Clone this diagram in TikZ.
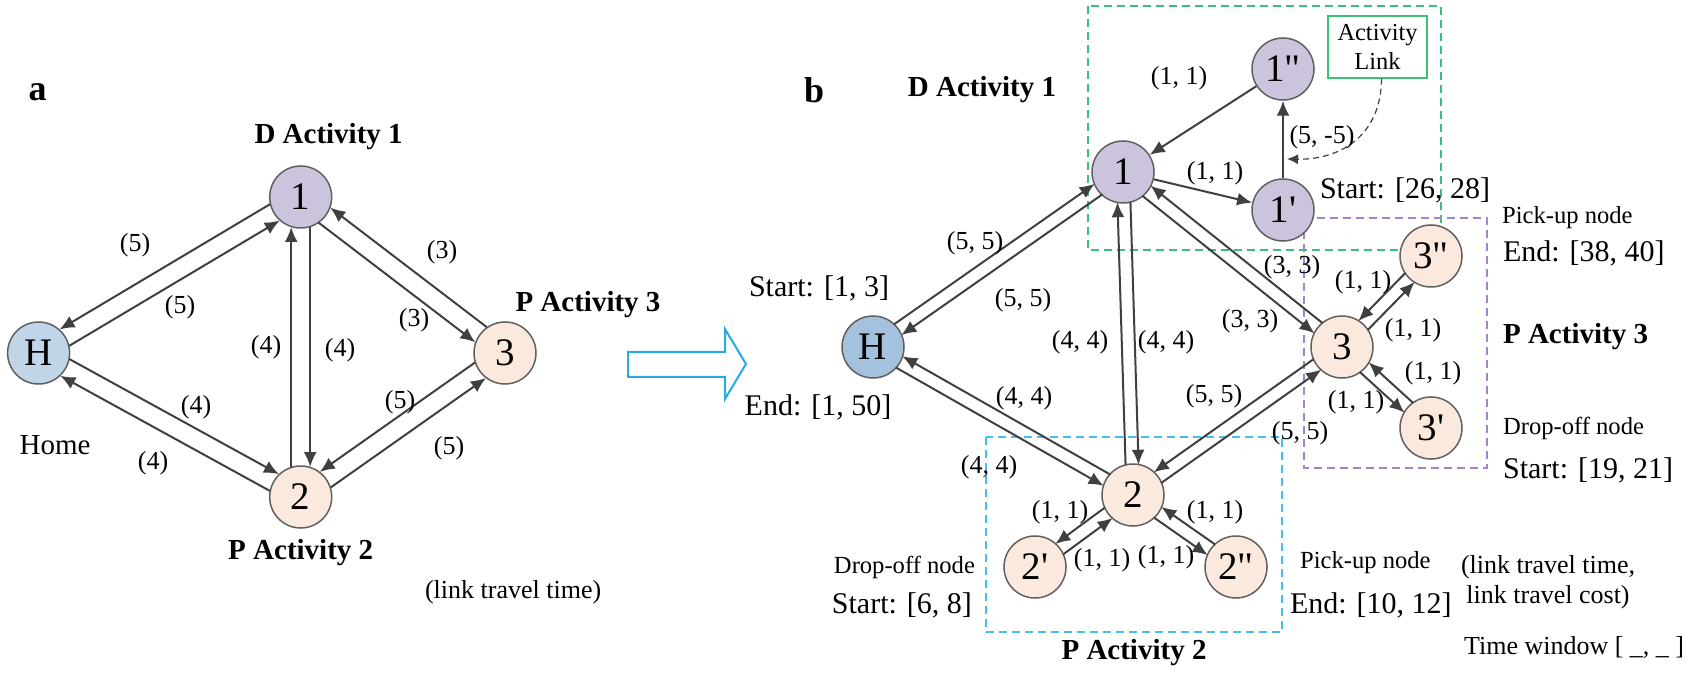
\documentclass[tikz,border=0pt]{standalone}
\usepackage{fontspec}
\setmainfont{Liberation Serif}
\usetikzlibrary{arrows.meta}
\usetikzlibrary{calc}
\definecolor{nodeline}{RGB}{96,96,96}
\definecolor{linkgray}{RGB}{64,64,64}
\definecolor{lav}{RGB}{204,196,221}
\definecolor{homeA}{RGB}{192,213,232}
\definecolor{homeB}{RGB}{164,194,222}
\definecolor{peach}{RGB}{251,233,222}
\definecolor{boxgreen}{RGB}{61,190,122}
\definecolor{boxpurple}{RGB}{167,131,206}
\definecolor{boxblue}{RGB}{69,192,236}
\definecolor{arrowblue}{RGB}{41,169,230}
\tikzset{
  stop/.style={circle,draw=nodeline,line width=0.75pt,minimum size=31pt,inner sep=0pt,
    font=\fontsize{19.5}{21}\selectfont},
  link/.style={draw=linkgray,line width=1pt,-{Latex[length=7.5pt,width=6.5pt]}},
  pair/.style={link,shorten <=15pt,shorten >=15pt},
  cost/.style={font=\fontsize{13}{15}\selectfont},
  title/.style={font=\fontsize{14.5}{16}\selectfont\bfseries},
  panel/.style={font=\fontsize{18}{20}\selectfont\bfseries},
  window/.style={font=\fontsize{15}{17}\selectfont},
  role/.style={font=\fontsize{12.3}{14}\selectfont},
  group/.style={dash pattern=on 4pt off 2.5pt,line width=0.6pt},
  callout/.style={draw=linkgray,line width=0.6pt,dash pattern=on 3pt off 2pt,
    -{Latex[length=5.5pt,width=5pt]}}
}
% one directed link, shifted sideways (#4 = 90 left, -90 right)
\newcommand{\lnk}[4][3.25pt]{%
  \draw[pair] ($(#2)!#1!#4:(#3)$) -- ($(#3)+($(#2)!#1!#4:(#3)$)-(#2)$);}

\begin{document}
\begin{tikzpicture}[x=0.5pt,y=-0.5pt]
                \useasboundingbox (0,0) rectangle (1691,678);

                % (a) activity network
                \node[panel] (ta) at (37.5,92) {a};
                \node[stop,fill=lav] (a1) at (300.7,197) {1};
                \node[stop,fill=homeA] (aH) at (38.6,353) {H};
                \node[stop,fill=peach] (a3) at (505,353) {3};
                \node[stop,fill=peach] (a2) at (300.7,497) {2};

                \lnk[4.75pt]{aH}{a1}{-90}
                \lnk[4.75pt]{a1}{aH}{-90}
                \lnk[4.75pt]{a1}{a3}{-90}
                \lnk[4.75pt]{a3}{a1}{-90}
                \lnk[4.75pt]{a2}{a1}{90}
                \lnk[4.75pt]{a1}{a2}{90}
                \lnk[4.75pt]{aH}{a2}{90}
                \lnk[4.75pt]{a2}{aH}{90}
                \lnk[4.75pt]{a2}{a3}{-90}
                \lnk[4.75pt]{a3}{a2}{-90}

                % Labels
                \node[title] (da1) at (328.6,137) {D Activity 1};
                \node[title] (pa2) at (300.7,553) {P Activity 2};
                \node[title] (pa3) at (588,305) {P Activity 3};
                \node[font=\fontsize{14.5}{16}\selectfont] (home) at (55,445) {Home};
                \node[cost,anchor=west] (unitA) at (418,592) {(link travel time)};
                \node[cost] (ca1) at (135,245) {(5)};
                \node[cost] (ca2) at (180,307) {(5)};
                \node[cost] (ca3) at (442,252) {(3)};
                \node[cost] (ca4) at (414,320) {(3)};
                \node[cost] (ca5) at (266,347) {(4)};
                \node[cost] (ca6) at (340,350) {(4)};
                \node[cost] (ca7) at (196,407) {(4)};
                \node[cost] (ca8) at (153,463) {(4)};
                \node[cost] (ca9) at (400,402) {(5)};
                \node[cost] (ca10) at (449,448) {(5)};

                % hollow arrow
                \draw[arrowblue,line width=1pt] (628,352) -- (725,352) -- (725,329) -- (746,364)
                    -- (725,399) -- (725,377) -- (628,377) -- cycle;

                % (b) expanded network
                \draw[group,boxgreen] (1088,6) rectangle (1441,250);
                \draw[group,boxpurple] (1304,218) rectangle (1487,468);
                \draw[group,boxblue] (986,437) rectangle (1282,632);

                \node[panel] (tb) at (814,90) {b};
                \node[stop,fill=lav] (b1) at (1123,172) {1};
                \node[stop,fill=lav] (b1pp) at (1283,69) {1\textquotedbl};
                \node[stop,fill=lav] (b1p) at (1283,210) {1\textquotesingle};
                \node[stop,fill=homeB] (bH) at (873,347) {H};
                \node[stop,fill=peach] (b3) at (1342,347) {3};
                \node[stop,fill=peach] (b3pp) at (1431,256) {3\textquotedbl};
                \node[stop,fill=peach] (b3p) at (1431,428) {3\textquotesingle};
                \node[stop,fill=peach] (b2) at (1133,495) {2};
                \node[stop,fill=peach] (b2p) at (1035,567) {2\textquotesingle};
                \node[stop,fill=peach] (b2pp) at (1236,567) {2\textquotedbl};

                \lnk{bH}{b1}{90}
                \lnk{b1}{bH}{90}
                \lnk{b2}{b1}{90}
                \lnk{b1}{b2}{90}
                \lnk{b1}{b3}{-90}
                \lnk{b3}{b1}{-90}
                \lnk{bH}{b2}{-90}
                \lnk{b2}{bH}{-90}
                \lnk{b2}{b3}{-90}
                \lnk{b3}{b2}{-90}
                \lnk{b3}{b3pp}{-90}
                \lnk{b3pp}{b3}{-90}
                \lnk{b3}{b3p}{-90}
                \lnk{b3p}{b3}{-90}
                \lnk{b2}{b2p}{-90}
                \lnk{b2p}{b2}{-90}
                \lnk{b2}{b2pp}{-90}
                \lnk{b2pp}{b2}{-90}
                \draw[link] (b1pp) -- (b1);
                \draw[link] (b1) -- (b1p);
                \draw[link] (b1p) -- (b1pp);

                % Activity link note
                \node[draw=boxgreen,line width=0.6pt,align=center,inner sep=0pt,
                    minimum width=49.5pt,minimum height=31pt,
                    font=\fontsize{12.2}{14.5}\selectfont] (actlink) at (1377.5,47) {Activity\\Link};
                \coordinate (lnkpt) at (1287,159);
                \draw[callout] ([xshift=2pt]actlink.south) .. controls (1381,140) and (1335,160) .. (lnkpt);

                % Labels
                \node[title] (db1) at (982,90) {D Activity 1};
                \node[title] (pb2) at (1134,653) {P Activity 2};
                \node[title,anchor=west] (pb3) at (1496,337) {P Activity 3};
                \node[window] (hs) at (819,288) {Start: [1, 3]};
                \node[window] (he) at (818,407) {End: [1, 50]};
                \node[window] (s1) at (1405,190) {Start: [26, 28]};
                \node[role,anchor=west] (pu3) at (1495,218) {Pick-up node};
                \node[window,anchor=west] (e3) at (1496,253) {End: [38, 40]};
                \node[role,anchor=west] (do3) at (1496,428) {Drop-off node};
                \node[window,anchor=west] (s3) at (1496,470) {Start: [19, 21]};
                \node[role,anchor=east] (do2) at (982,567) {Drop-off node};
                \node[window,anchor=east] (s2) at (979,605) {Start: [6, 8]};
                \node[role,anchor=west] (pu2) at (1293,563) {Pick-up node};
                \node[window,anchor=west] (e2) at (1283,605) {End: [10, 12]};
                \node[cost,align=center] (unitB) at (1548,582) {(link travel time,\\link travel cost)};
                \node[cost,anchor=west] (tw) at (1457,647) {Time window [ \_, \_ ]};

                \node[cost] (cb1) at (975,243) {(5, 5)};
                \node[cost] (cb2) at (1023,300) {(5, 5)};
                \node[cost] (cb3) at (1080,342) {(4, 4)};
                \node[cost] (cb4) at (1166,342) {(4, 4)};
                \node[cost] (cb5) at (1024,398) {(4, 4)};
                \node[cost] (cb6) at (989,467) {(4, 4)};
                \node[cost] (cb7) at (1214,396) {(5, 5)};
                \node[cost] (cb8) at (1300,433) {(5, 5)};
                \node[cost] (cb9) at (1292,267) {(3, 3)};
                \node[cost] (cb10) at (1250,321) {(3, 3)};
                \node[cost] (cb11) at (1179,78) {(1, 1)};
                \node[cost] (cb12) at (1215,173) {(1, 1)};
                \node[cost] (cb13) at (1322,137) {(5, -5)};
                \node[cost] (cb14) at (1363,282) {(1, 1)};
                \node[cost] (cb15) at (1413,330) {(1, 1)};
                \node[cost] (cb16) at (1433,373) {(1, 1)};
                \node[cost] (cb17) at (1356,402) {(1, 1)};
                \node[cost] (cb18) at (1060,512) {(1, 1)};
                \node[cost] (cb19) at (1102,560) {(1, 1)};
                \node[cost] (cb20) at (1166,557) {(1, 1)};
                \node[cost] (cb21) at (1215,512) {(1, 1)};
            \end{tikzpicture}
\end{document}
